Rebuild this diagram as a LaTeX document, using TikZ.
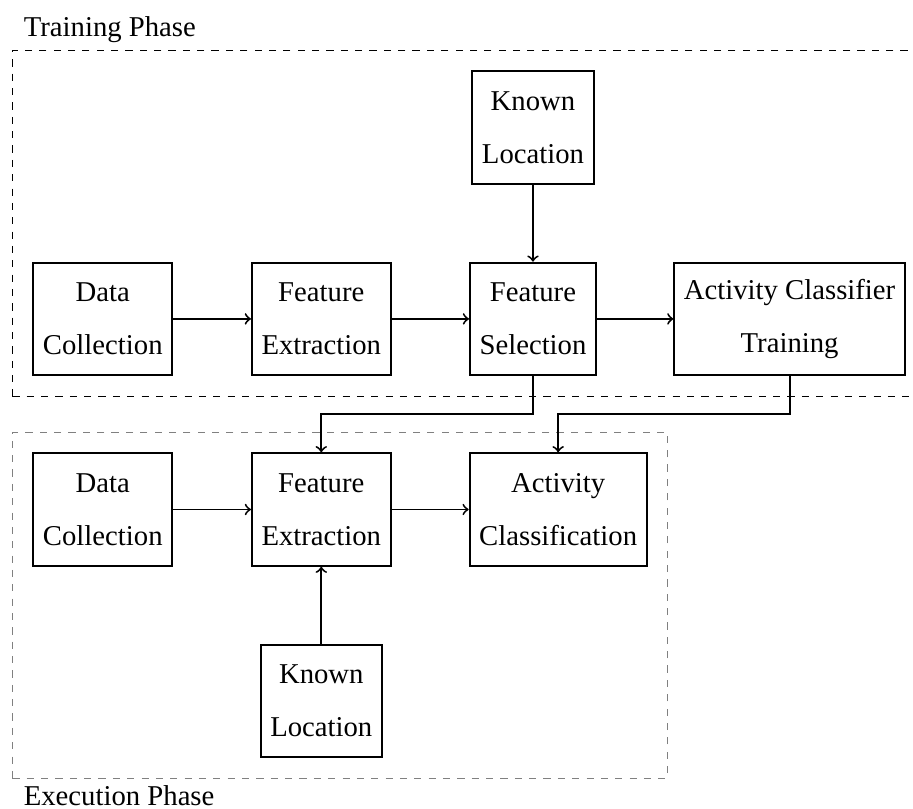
\documentclass[tikz,border=0pt,12pt]{standalone}
\usepackage{fontspec}
\setmainfont{Liberation Serif}
\usetikzlibrary{fit}

\tikzset{
    block/.style={draw, thick, align=center, minimum height=47pt,
        font=\fontsize{12}{22.2}\selectfont},
    phase/.style={draw, dashed, inner sep=8.4pt},
    phaselabel/.style={inner sep=2.8pt},
    flow/.style={->, thick},
}

\begin{document}
\begin{tikzpicture}
    \useasboundingbox (0, 0) rectangle (13.413, 11.885);

    % Training phase
    \node[block] (kl1) at (7.83, 10.01) {Known\\Location};
    \node[block] (dc1) at (1.51, 7.2) {Data\\Collection};
    \node[block] (fe1) at (4.72, 7.2) {Feature\\Extraction};
    \node[block] (fs) at (7.83, 7.2) {Feature\\Selection};
    \node[block] (act) at (11.6, 7.2) {Activity Classifier\\Training};

    % Execution phase
    \node[block] (dc2) at (1.51, 4.4) {Data\\Collection};
    \node[block] (fe2) at (4.72, 4.4) {Feature\\Extraction};
    \node[block] (ac) at (8.2, 4.4) {Activity\\Classification};
    \node[block] (kl2) at (4.72, 1.59) {Known\\Location};

    % Phase frames
    \node[phase, fit=(kl1) (dc1) (act)] (train) {};
    \node[phase, gray, fit=(dc2) (ac) (kl2)] (exec) {};
    \node[phaselabel, anchor=south west] (trainlbl) at ([xshift=2pt]train.north west) {Training Phase};
    \node[phaselabel, anchor=north west] (execlbl) at ([xshift=2pt]exec.south west) {Execution Phase};

    % Arrows
    \draw[flow] (dc1) -- (fe1);
    \draw[flow] (fe1) -- (fs);
    \draw[flow] (fs) -- (act);
    \draw[flow] (kl1) -- (fs);
    \draw[flow] (dc2) -- (fe2);
    \draw[flow] (fe2) -- (ac);
    \draw[flow] (kl2) -- (fe2);

    % Trained model handed down
    \coordinate (bend) at (0, 5.8);
    \draw[flow] (fs.south) -- (fs.south |- bend) -| (fe2.north);
    \draw[flow] (act.south) -- (act.south |- bend) -| (ac.north);
\end{tikzpicture}
\end{document}
